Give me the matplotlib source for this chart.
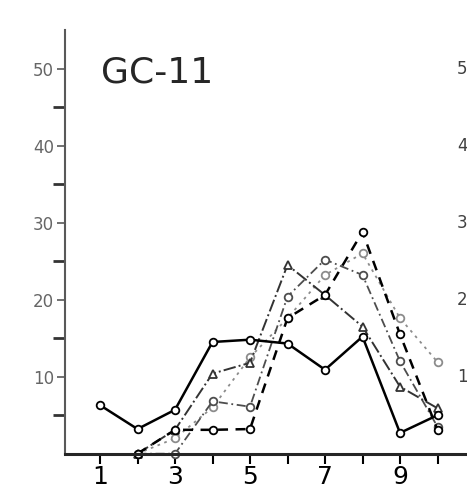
import numpy as np
import matplotlib
matplotlib.use("Agg")
import matplotlib.pyplot as plt

nan = np.nan
x = [1, 2, 3, 4, 5, 6, 7, 8, 9, 10]
s1 = [6.3, 3.2, 5.7, 14.5, 14.8, 14.3, 10.9, 15.2, 2.7, 5.0]
s2 = [nan, 0.0, 3.1, 10.4, 11.8, 24.5, 20.6, 16.5, 8.7, 5.9]
s3 = [nan, 0.0, 3.1, 3.1, 3.2, 17.6, 20.6, 28.8, 15.5, 3.1]
s4 = [nan, 0.0, 0.0, 6.8, 6.1, 20.4, 25.2, 23.2, 12.0, 3.5]
s5 = [nan, 0.0, 2.0, 6.0, 12.5, 17.6, 23.2, 26.0, 17.6, 11.9]
ytick_vals = [10, 20, 30, 40, 50]
ytick_labels = ["10", "20", "30", "40", "50"]
xtick_labels = ["1", "", "3", "", "5", "", "7", "", "9", ""]
panel_label = "GC-11"

W, H = 467, 495
fig = plt.figure(figsize=(W / 100, H / 100), dpi=100)
ax = fig.add_axes([65 / W, (H - 453.7) / H, (467 - 65) / W, (453.7 - 30) / H])
ax.set_xlim(1 - 35 / 37.5, 1 + 367 / 37.5)
ax.set_ylim(0, 55)

mk = dict(markersize=5.5, markerfacecolor="white", markeredgewidth=1.3, clip_on=False)
ax.plot(x, s5, linestyle=(0, (1.5, 2.5)), color="0.55", lw=1.3, marker="o", markeredgecolor="0.55", **mk)
ax.plot(x, s4, linestyle=(0, (5, 2, 1, 2)), color="0.3", lw=1.3, marker="o", markeredgecolor="0.3", **mk)
ax.plot(x, s2, linestyle="-.", color="0.2", lw=1.4, marker="^", markeredgecolor="0.2", **mk)
ax.plot(x, s3, linestyle=(0, (4, 3)), color="black", lw=1.8, marker="o", markeredgecolor="black", **mk)
ax.plot(x, s1, linestyle="-", color="black", lw=1.8, marker="o", markeredgecolor="black", **mk)

for side in ["top", "right"]:
    ax.spines[side].set_visible(False)
ax.spines["left"].set_color("0.35")
ax.spines["left"].set_linewidth(1.5)
ax.spines["bottom"].set_color("0.15")
ax.spines["bottom"].set_linewidth(2.2)

ax.set_xticks(x)
ax.set_xticklabels(xtick_labels, fontsize=18)
ax.tick_params(axis="x", direction="out", length=7, width=1.5, pad=1, colors="black")
ax.set_yticks(ytick_vals)
ax.set_yticklabels(ytick_labels, fontsize=12, color="0.4")
ax.set_yticks([5, 15, 25, 35, 45], minor=True)
ax.tick_params(axis="y", which="major", direction="out", length=6, width=1.3, color="0.4", pad=2)
ax.tick_params(axis="y", which="minor", direction="out", length=9, width=2, color="0.2")

ax.text(0.09, 0.9, panel_label, transform=ax.transAxes, fontsize=26,
        color="0.15", va="center", ha="left")

# partially visible next panel's tick labels at right edge
for v, lab in zip(ytick_vals, ytick_labels):
    yfig = (H - (453.7 - v * 7.7)) / H
    fig.text(457 / W, yfig, lab, fontsize=12, color="0.25", va="center", ha="left")

fig.savefig("out.png", dpi=100)
